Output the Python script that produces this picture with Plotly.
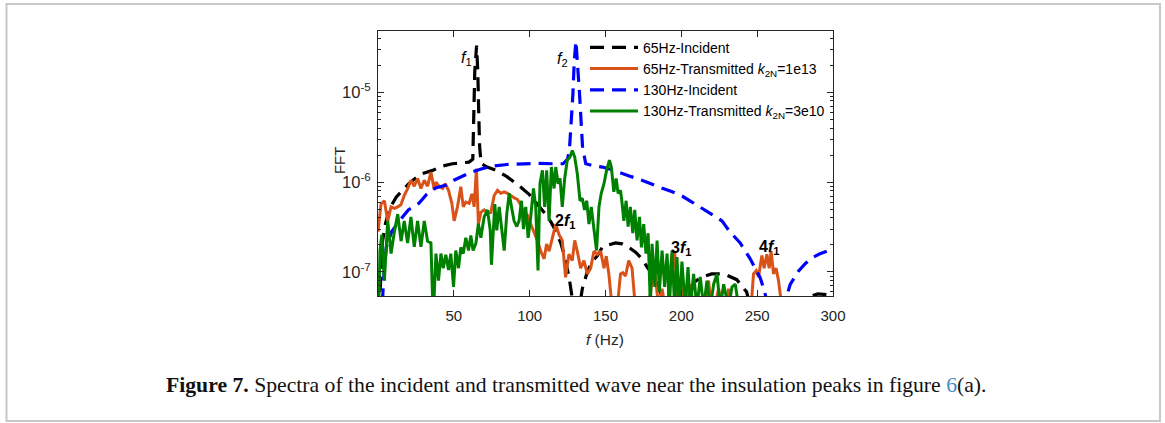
import math
import plotly.graph_objects as go

# ---------------- data (frequency in Hz, FFT amplitude) -------------
inc65_pts = [
    (0, 2e-8), (1, 5e-8), (2, 1.2e-7), (3, 2.2e-7), (5, 3.5e-7), (8, 5.2e-7), (12, 6.8e-7),
    (16, 8.1e-7), (20, 9.5e-7), (23, 1.05e-6), (29, 1.24e-6), (36, 1.35e-6), (42, 1.5e-6),
    (49, 1.6e-6), (55, 1.65e-6), (60, 1.67e-6), (62.5, 1.8e-6), (63.2, 6e-6), (63.8, 1.7e-5),
    (65, 3.3e-5), (65.8, 1.7e-5), (66.4, 6e-6), (67, 2.5e-6), (68, 1.6e-6), (72, 1.47e-6),
    (78, 1.35e-6), (85, 1.15e-6), (94, 8.8e-7), (100, 7.2e-7), (105, 5.7e-7), (110, 4.5e-7),
    (114, 3.6e-7), (117, 2.9e-7), (120.5, 2.1e-7), (123, 1.5e-7), (126, 8.7e-8), (128, 5.2e-8),
    (130, 2e-8), (132, 3.5e-8), (134.7, 6.5e-8), (138, 1e-7), (141, 1.3e-7), (144.5, 1.5e-7),
    (148, 1.9e-7), (152, 2e-7), (156.6, 2.1e-7), (161, 2.05e-7), (165, 1.9e-7), (170, 1.65e-7),
    (174, 1.4e-7), (178, 1.1e-7), (181, 9.5e-8), (185, 7e-8), (188, 5e-8), (193, 2.5e-8),
    (200, 3.5e-8), (204.7, 6e-8), (209, 7.8e-8), (213.6, 8.8e-8), (220, 9.5e-8), (226, 9.5e-8),
    (230, 9.2e-8), (236.6, 8.2e-8), (243, 6e-8), (248, 3e-8), (256, 1.5e-8), (270, 3.5e-8),
    (280, 5e-8), (290, 5.7e-8), (300, 5.5e-8),
]

trans65_pts = [
    (0, 2.8e-7), (2.0, 5.7e-7), (4.2, 6.2e-7), (6.4, 3.7e-7), (8.6, 5.3e-7), (10.8, 5.1e-7),
    (13.0, 5.3e-7), (15.1, 5.6e-7), (17.3, 7.1e-7), (19.5, 8.4e-7), (21.7, 1.05e-6), (23.9, 9e-7),
    (26.1, 1.1e-6), (28.3, 8.5e-7), (30.5, 1.05e-6), (32.7, 9e-7), (34.9, 1.29e-6), (37.1, 8.2e-7),
    (38.2, 1e-6), (40.4, 8.9e-7), (42.6, 8.5e-7), (44.3, 9.6e-7), (46.5, 8.1e-7), (48.7, 5.8e-7),
    (50.2, 3.7e-7), (52.4, 5.3e-7), (54.6, 8.9e-7), (56.2, 5.3e-7), (57.9, 6e-7), (60.1, 5.8e-7),
    (61.9, 7.4e-7), (63.4, 5.3e-7), (64.9, 1.41e-6), (66.2, 3.4e-7), (67.8, 4.6e-7), (70, 4.9e-7),
    (72.2, 4.6e-7), (74.4, 4.6e-7), (76.6, 7.1e-7), (78.8, 8.1e-7), (81, 7.5e-7), (83.2, 7.8e-7),
    (85.4, 7.5e-7), (87.6, 7e-7), (89.7, 6.7e-7), (91.9, 6.4e-7), (94.1, 5.6e-7), (96.3, 4.5e-7),
    (98.5, 4.3e-7), (100.7, 3.4e-7), (102.9, 2.8e-7), (105.1, 2.24e-7), (107.3, 1.7e-7),
    (109.5, 1.4e-7), (111.2, 2.05e-7), (112.8, 1.7e-7), (115, 2.4e-7), (117.2, 3.4e-7),
    (119.4, 2.6e-7), (121.5, 2.24e-7), (123.7, 8.7e-8), (125.9, 1.57e-7), (128.1, 1.34e-7),
    (129.7, 2.24e-7), (131.4, 1.7e-7), (133.6, 1.1e-7), (135.8, 1.34e-7), (138, 9.5e-8),
    (140.2, 1.1e-7), (142.4, 1.7e-7), (144.6, 1.57e-7), (146.8, 1.7e-7), (149, 1.1e-7),
    (150.5, 1.5e-7), (152.2, 9.5e-8), (154.4, 4e-8), (157.7, 4e-8), (159.9, 9.5e-8),
    (161.4, 9.8e-8), (163.2, 9e-8), (165.3, 1.34e-7), (167.5, 1.1e-7), (169.7, 4e-8),
    (171.9, 3e-8), (175.2, 5e-8), (177.4, 3e-8), (180.7, 8e-8), (182.9, 8.7e-8), (185.1, 4e-8),
    (187.3, 6.5e-8), (190.6, 3e-8), (192.3, 9.5e-8), (193.9, 1.57e-7), (195.6, 1.7e-7),
    (197.8, 4e-8), (200.4, 9.5e-8), (202.6, 3e-8), (205.9, 7.3e-8), (209.2, 3e-8), (213.6, 3e-8),
    (218, 8e-8), (220.2, 3e-8), (224.6, 6.5e-8), (227.9, 3e-8), (231.2, 6.5e-8), (233.4, 3e-8),
    (245.4, 3e-8), (247.6, 9.5e-8), (249.4, 1.03e-7), (250.9, 8.8e-8), (253.1, 1.52e-7),
    (254.6, 1.1e-7), (256.4, 1.57e-7), (257.9, 1.1e-7), (259.2, 1.7e-7), (260.8, 9.5e-8),
    (262.5, 1.1e-7), (264.1, 8e-8), (266.3, 4e-8), (270, 2e-8), (280, 3e-8), (290, 2.5e-8),
    (300, 3e-8),
]

inc130_pts = [
    (0, 1.5e-8), (2, 2e-8), (3, 5e-8), (4, 1e-7), (5.5, 1.9e-7), (9, 2.8e-7), (13, 3.5e-7),
    (20, 4.9e-7), (27, 5.8e-7), (32, 7.3e-7), (38, 8.6e-7), (45, 9.3e-7), (50, 1.05e-6),
    (57, 1.2e-6), (62, 1.3e-6), (68, 1.4e-6), (75, 1.5e-6), (85, 1.57e-6), (94, 1.6e-6),
    (105, 1.62e-6), (115, 1.6e-6), (122, 1.6e-6), (125, 1.8e-6), (126.3, 2.4e-6), (128.5, 9.5e-6),
    (129.4, 2.2e-5), (130.5, 3.7e-5), (131.6, 2.2e-5), (132.9, 9.5e-6), (134.9, 2.4e-6),
    (137, 1.6e-6), (142, 1.52e-6), (148, 1.47e-6), (155, 1.36e-6), (161, 1.24e-6), (167, 1.15e-6),
    (174, 1.05e-6), (180, 9.5e-7), (187, 8.6e-7), (194, 7.8e-7), (200.5, 7e-7), (207, 6e-7),
    (213.6, 5.1e-7), (220, 4.4e-7), (226.8, 3.7e-7), (232, 2.8e-7), (238.8, 2.1e-7),
    (245.4, 1.4e-7), (250, 1e-7), (252, 8.6e-8), (255, 6e-8), (258, 3e-8), (262, 1.5e-8),
    (266, 3e-8), (269, 5e-8), (271.7, 7.2e-8), (277.2, 1.02e-7), (282, 1.25e-7), (287, 1.46e-7),
    (291, 1.58e-7), (295.8, 1.7e-7), (300, 1.8e-7),
]

trans130_pts = [
    (0.5, 4e-8), (1.3, 1.7e-7), (2.5, 2.6e-7), (4.2, 8e-8), (6.4, 3.7e-7), (8.6, 1.6e-7),
    (10.8, 2.8e-7), (13, 4.4e-7), (15.2, 2.2e-7), (17.3, 3.7e-7), (19.5, 2.1e-7), (21.7, 4.1e-7),
    (23.9, 1.9e-7), (26.1, 3.7e-7), (28.3, 1.9e-7), (30.5, 3.7e-7), (32.7, 2.2e-7), (34.9, 2.1e-7),
    (36.4, 3e-8), (38.2, 1.6e-7), (39.9, 8e-8), (41.5, 1.6e-7), (43, 1.1e-7), (44.7, 1.55e-7),
    (46.5, 1.05e-7), (48, 1.6e-7), (49.8, 6.8e-8), (51.3, 1.73e-7), (53.1, 1.1e-7), (54.6, 1.88e-7),
    (56.2, 1.6e-7), (57.9, 2.4e-7), (59.7, 1.73e-7), (61.2, 2.55e-7), (62.7, 1.73e-7),
    (64.5, 2.06e-7), (66.2, 3.44e-7), (67.8, 2.4e-7), (70, 4.1e-7), (72.2, 4.9e-7), (74, 2.9e-7),
    (74.8, 1.2e-7), (77, 5.7e-7), (78.3, 2.9e-7), (79.9, 5.3e-7), (81.4, 3e-7), (83.2, 1.73e-7),
    (84.9, 4.4e-7), (86.5, 7.5e-7), (88, 5.3e-7), (89.7, 3.7e-7), (91.5, 3.2e-7), (93, 3.7e-7),
    (94.6, 6.2e-7), (95.9, 3e-7), (97.4, 5.3e-7), (99, 2.4e-7), (100.7, 4.1e-7), (102.5, 8.5e-7),
    (104, 5.3e-7), (105.5, 1.04e-7), (106.8, 9.6e-7), (108.4, 1.35e-6), (109.9, 5.3e-7),
    (111.2, 1.35e-6), (112.8, 3.7e-7), (114.3, 1.47e-6), (116.1, 8.5e-7), (117.2, 1.47e-6),
    (118.7, 9.6e-7), (120, 1.1e-6), (121.5, 5.3e-7), (123.1, 1.1e-6), (124.8, 1.75e-6),
    (126.6, 1.9e-6), (128.1, 2.25e-6), (129.7, 1.9e-6), (131.4, 1.24e-6), (133.2, 6.2e-7),
    (134.7, 6.6e-7), (136.2, 4.9e-7), (137.6, 6.2e-7), (139.1, 3.4e-7), (140.6, 5.3e-7),
    (142.4, 2.8e-7), (144.1, 1.73e-7), (145.7, 5.3e-7), (147.2, 7.5e-7), (149, 9.6e-7),
    (150.7, 1.35e-6), (152.6, 1.75e-6), (153.9, 1.45e-6), (155.5, 7.8e-7), (157, 1.1e-6),
    (158.3, 7.5e-7), (159.9, 8.1e-7), (161, 5.7e-7), (162.1, 3.7e-7), (163.6, 6.2e-7),
    (164.9, 3.2e-7), (166.4, 5.3e-7), (168, 2.7e-7), (169.3, 4.9e-7), (170.8, 2.24e-7),
    (172.4, 4.1e-7), (173.7, 1.88e-7), (175.2, 3.4e-7), (176.7, 1.6e-7), (178.1, 2.7e-7),
    (179.6, 4e-8), (180.7, 2.06e-7), (182.5, 6.8e-8), (184, 2.24e-7), (185.5, 6e-8),
    (187.3, 1.73e-7), (189, 6.8e-8), (190.6, 1.6e-7), (192.1, 4e-8), (193.9, 1.73e-7),
    (195.6, 4e-8), (197.1, 1.46e-7), (198.7, 4e-8), (200.4, 1.3e-7), (202.6, 4e-8),
    (204.4, 1.13e-7), (205.9, 4e-8), (208.1, 9.5e-8), (210.3, 4e-8), (212.5, 8.8e-8),
    (214.7, 4e-8), (216.9, 8e-8), (219.1, 4e-8), (221.3, 7.3e-8), (223.5, 9.5e-8), (225.7, 4e-8),
    (227.9, 7.3e-8), (231.2, 4e-8), (233.4, 6.8e-8), (235.6, 7.3e-8), (237.8, 4e-8), (245, 3e-8),
    (260, 2e-8), (300, 2e-8),
]

series_names = [
    "65Hz-Incident",
    "65Hz-Transmitted <i>k</i><sub>2N</sub>=1e13",
    "130Hz-Incident",
    "130Hz-Transmitted <i>k</i><sub>2N</sub>=3e10",
]
x_ticks = [50, 100, 150, 200, 250, 300]
y_ticks = [1e-7, 1e-6, 1e-5]
y_ticktext = ["10<sup>-7</sup>", "10<sup>-6</sup>", "10<sup>-5</sup>"]

# annotation labels (text, frequency, amplitude, bold)
peak_labels = [
    ("<i>f</i><sub>1</sub>", 58.5, 2.4e-5, False),
    ("<i>f</i><sub>2</sub>", 121.5, 2.3e-5, False),
    ("2<i>f</i><sub>1</sub>", 123.0, 3.6e-7, True),
    ("3<i>f</i><sub>1</sub>", 199.5, 1.82e-7, True),
    ("4<i>f</i><sub>1</sub>", 258.0, 1.85e-7, True),
]

# ---------------- figure -----------------------------------------------------------------
styles = [
    dict(color="#000000", width=3.2, dash="14px,8px"),
    dict(color="#D95319", width=3),
    dict(color="#0000FF", width=3.2, dash="14px,8px"),
    dict(color="#008000", width=3),
]
all_pts = [inc65_pts, trans65_pts, inc130_pts, trans130_pts]

fig = go.Figure()
for pts, name, st in zip(all_pts, series_names, styles):
    fx = [p[0] for p in pts]
    fy = [p[1] for p in pts]
    fig.add_trace(go.Scatter(x=fx, y=fy, mode="lines", name=name, line=st))

axis_col = "#262626"
fig.update_xaxes(
    range=[0, 300], tickvals=x_ticks, ticks="inside", ticklen=6, tickwidth=1,
    tickcolor=axis_col, showline=True, linecolor=axis_col, linewidth=1, mirror="ticks",
    showgrid=False, zeroline=False, tickfont=dict(size=15, color=axis_col),
    ticklabelstandoff=6,
)
minor_vals = [k * 10.0 ** e for e in range(-8, -4) for k in range(2, 10)]
fig.update_yaxes(
    type="log", range=[-7.268, -4.318], tickvals=y_ticks, ticktext=y_ticktext,
    ticks="inside", ticklen=6, tickwidth=1, tickcolor=axis_col, showline=True,
    linecolor=axis_col, linewidth=1, mirror="ticks", showgrid=False, zeroline=False,
    tickfont=dict(size=16.5, color=axis_col), ticklabelstandoff=3,
    minor=dict(ticks="inside", ticklen=3, tickcolor=axis_col, tickvals=minor_vals, showgrid=False),
)

annots = []
for txt, fx, fy, bold in peak_labels:
    annots.append(dict(
        x=fx, y=math.log10(fy), xref="x", yref="y", showarrow=False,
        xanchor="center", yanchor="middle",
        text=("<b>" + txt + "</b>") if bold else txt,
        font=dict(size=16, color="#000000", family="Liberation Sans, Arial, sans-serif"),
    ))
annots.append(dict(x=-0.084, y=0.512, xref="paper", yref="paper", showarrow=False, text="FFT",
                   xanchor="center", yanchor="middle",
                   textangle=-90, font=dict(size=15, color=axis_col)))
annots.append(dict(x=0.499, y=-0.166, xref="paper", yref="paper", showarrow=False,
                   xanchor="center", yanchor="middle",
                   text="<i>f</i> (Hz)", font=dict(size=15.5, color=axis_col)))
annots.append(dict(
    x=0.436, y=-0.336, xref="paper", yref="paper", showarrow=False,
    xanchor="center", yanchor="middle",
    text="<b>Figure 7.</b> Spectra of the incident and transmitted wave near the insulation peaks in figure "
         "<span style='color:#3b8dc8'>6</span>(a).",
    font=dict(size=21.7, color="#111111", family="Liberation Serif, Times New Roman, serif"),
))

fig.update_layout(
    width=1165, height=423, autosize=False,
    margin=dict(l=378, r=332, t=31, b=127, pad=0),
    paper_bgcolor="white", plot_bgcolor="white",
    font=dict(family="Liberation Sans, Arial, sans-serif", size=14, color=axis_col),
    showlegend=True,
    legend=dict(x=0.455, y=0.997, xanchor="left", yanchor="top", bgcolor="rgba(0,0,0,0)",
                font=dict(size=14, color="#000000"), itemwidth=48, tracegroupgap=0),
    annotations=annots,
    shapes=[dict(type="rect", xref="paper", yref="paper", x0=-0.8165, x1=1.7187,
                 y0=-0.4717, y1=1.1019, line=dict(color="#c8c8c8", width=2))],
)

fig.write_html("out.html", config={"displayModeBar": False},
               post_script="document.body.style.margin='0px';")
